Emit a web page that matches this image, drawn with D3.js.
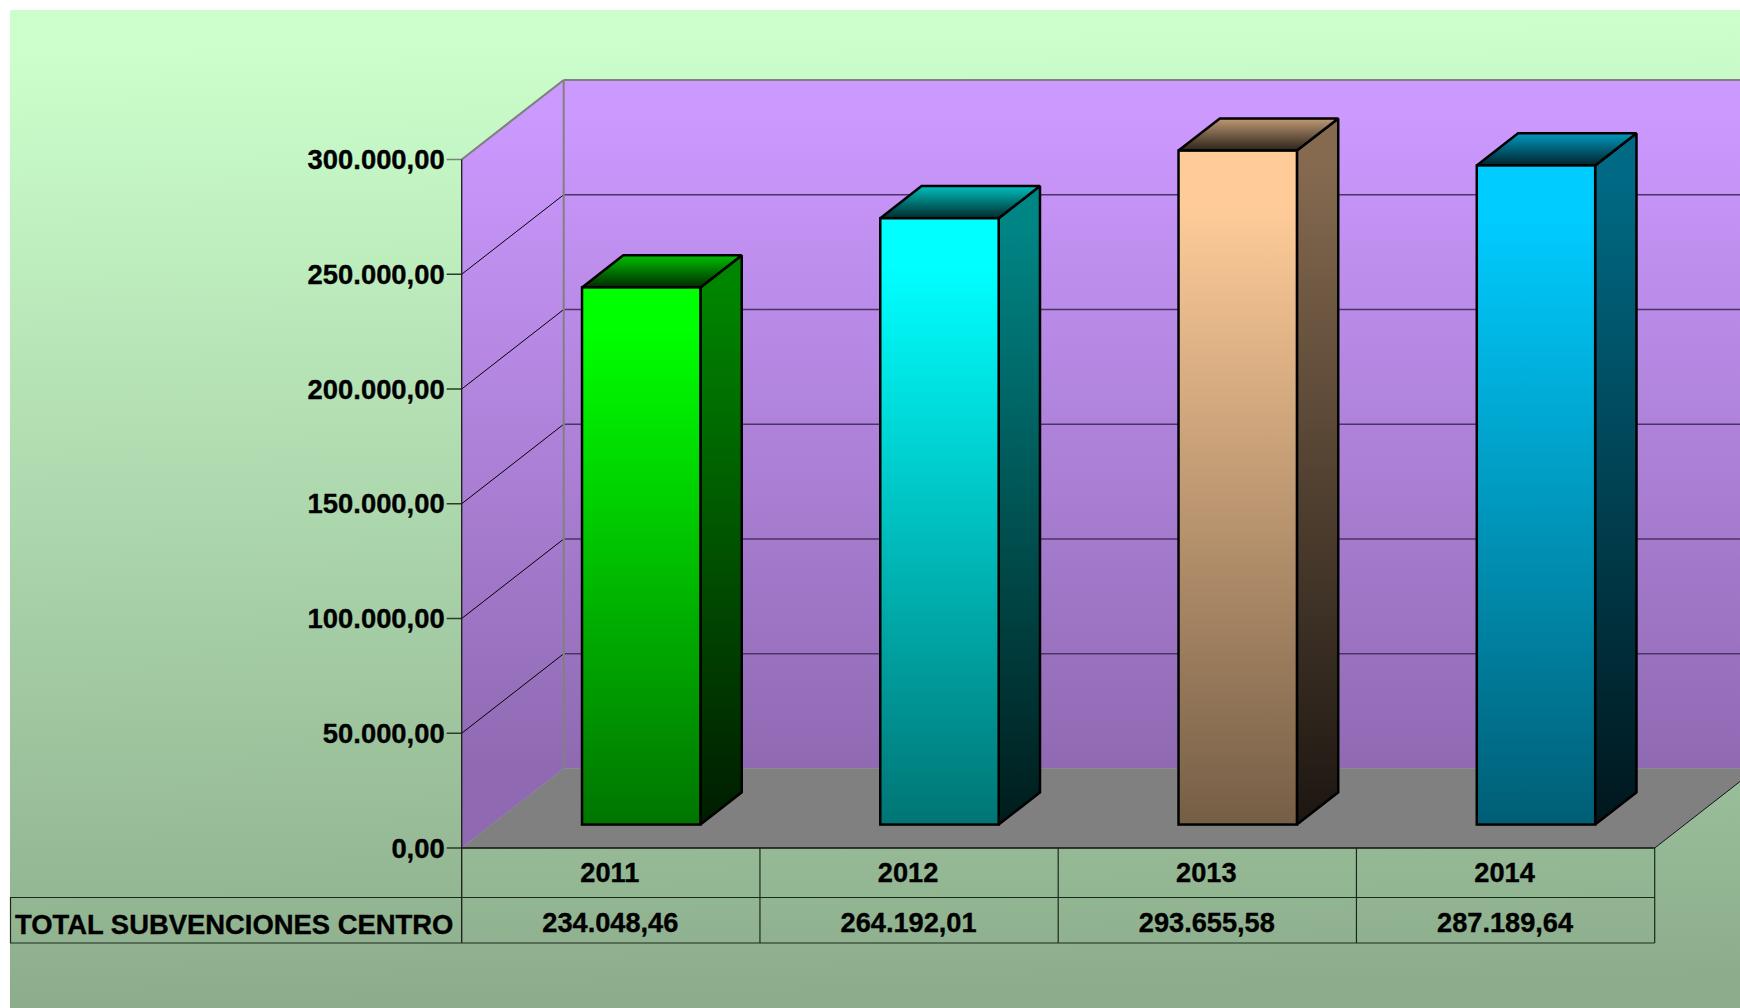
<!DOCTYPE html>
<html><head><meta charset="utf-8">
<style>html,body{margin:0;padding:0;background:#fff;overflow:hidden}svg{display:block}text{font-family:"Liberation Sans",Arial,sans-serif;font-weight:bold;fill:#000;stroke:#000;stroke-width:0.35px}</style>
<script src="https://cdn.jsdelivr.net/npm/d3@7"></script></head><body>
<script>
const categories = ["2011","2012","2013","2014"];
const values = [234048.46,264192.01,293655.58,287189.64];
const rowLabel = "TOTAL SUBVENCIONES CENTRO";
const yTicks = [0,50000,100000,150000,200000,250000,300000];
const barColors = ["#00FF00","#00FFFF","#FFCC99","#00CCFF"];

const W=1740,H=1008;
const svg=d3.select("body").append("svg").attr("width",W).attr("height",H);
const defs=svg.append("defs");
const locale=d3.formatLocale({decimal:",",thousands:".",grouping:[3],currency:["","€"]});
const fmt=locale.format(",.2f");

const y=d3.scaleLinear().domain([0,300000]).range([848,159.5]);
const x=d3.scaleBand().domain(categories).range([461.7,1654.7]).paddingInner(0).paddingOuter(0);
const depthX=102, depthY=79.5;            // wall depth
const barBack=0.7, barFront=0.295;        // bar occupies this slice of depth
const barW=x.bandwidth()*0.397;
const mult=(c,k)=>{const r=d3.rgb(c);return d3.rgb(r.r*k,r.g*k,r.b*k).formatHex();};
function grad(id,stops,coords,hold){
  const g=defs.append("linearGradient").attr("id",id);
  if(coords){g.attr("gradientUnits","userSpaceOnUse").attr("x1",coords[0]).attr("y1",coords[1]).attr("x2",coords[2]).attr("y2",coords[3]);}
  else{g.attr("x1",0).attr("y1",0).attr("x2",0).attr("y2",1);}
  g.append("stop").attr("offset",hold||0).attr("stop-color",stops[0]);
  g.append("stop").attr("offset",1).attr("stop-color",stops[1]);
}
grad("bg",["#CCFFCC","#8CAD8C"],[0,10,18,1008],0.04);
grad("wall",["#CC99FF","#8F6AB2"],[0,y(300000)-depthY,0,y(0)-depthY],0.05);
grad("lwall",["#CC99FF","#8F6AB2"],[0,y(300000)-depthY,0,y(0)-depthY],0.05);
barColors.forEach((c,i)=>{
  grad("f"+i,[c,mult(c,0.46)],null,0.08);
  grad("s"+i,[mult(c,0.52),mult(c,0.11)],null,0.06);
  grad("t"+i,[mult(c,0.75),mult(c,0.17)]);
});
svg.append("rect").attr("x",10).attr("y",10).attr("width",W-10).attr("height",H-10).attr("fill","url(#bg)");

const P=(px,py)=>px+","+py;
const x0=x.range()[0],x1=x.range()[1],yb=y(0),yt=y(300000);
svg.append("polygon").attr("points",[P(x0,yb),P(x0+depthX,yb-depthY),P(x0+depthX,yt-depthY),P(x0,yt)].join(" ")).attr("fill","url(#lwall)");
svg.append("polygon").attr("points",[P(x0+depthX,yb-depthY),P(x1+depthX,yb-depthY),P(x1+depthX,yt-depthY),P(x0+depthX,yt-depthY)].join(" ")).attr("fill","url(#wall)");
svg.append("polygon").attr("points",[P(x0,yb),P(x0+depthX,yb-depthY),P(x1+depthX,yb-depthY),P(x1,yb)].join(" ")).attr("fill","#808080");
yTicks.slice(1,-1).forEach(t=>{
  const yy=y(t);
  svg.append("line").attr("x1",x0).attr("y1",yy).attr("x2",x0+depthX).attr("y2",yy-depthY).attr("stroke","#000").attr("stroke-width",1);
  svg.append("line").attr("x1",x0+depthX).attr("y1",yy-depthY).attr("x2",x1+depthX).attr("y2",yy-depthY).attr("stroke","#4a3566").attr("stroke-width",1.4);
});
svg.append("line").attr("x1",x0+depthX).attr("y1",yb-depthY).attr("x2",x0+depthX).attr("y2",yt-depthY).attr("stroke","#808080").attr("stroke-width",2);
svg.append("line").attr("x1",x0).attr("y1",yt).attr("x2",x0+depthX).attr("y2",yt-depthY).attr("stroke","#808080").attr("stroke-width",2.2);
svg.append("line").attr("x1",x0+depthX).attr("y1",yt-depthY).attr("x2",x1+depthX).attr("y2",yt-depthY).attr("stroke","#808080").attr("stroke-width",2.2);
svg.append("line").attr("x1",x1).attr("y1",yb).attr("x2",x1+depthX).attr("y2",yb-depthY).attr("stroke","#111").attr("stroke-width",1);
yTicks.forEach(t=>{
  const yy=y(t);
  svg.append("line").attr("x1",x0-15).attr("y1",yy).attr("x2",x0).attr("y2",yy).attr("stroke",t===300000?"#6f8a6f":"#2b3a2b").attr("stroke-width",1.5);
  svg.append("text").attr("x",x0-17).attr("y",yy+9.5).attr("text-anchor","end").attr("font-size",27.4).text(fmt(t));
});
svg.append("line").attr("x1",x0).attr("y1",yt).attr("x2",x0).attr("y2",943).attr("stroke","#1a1a1a").attr("stroke-width",1.3);

const dx=depthX*(barBack-barFront), dy=depthY*(barBack-barFront);
const ox=depthX*0.3-0.2, oy=depthY*barFront;
categories.forEach((c,i)=>{
  const l=x(c)+x.bandwidth()/2-barW/2+ox, r=l+barW, b=yb-oy, t=y(values[i])-oy;
  const g=svg.append("g").attr("stroke","#000").attr("stroke-width",2.5).attr("stroke-linejoin","miter").attr("stroke-miterlimit",1.5);
  g.append("polygon").attr("points",[P(r,b),P(r+dx,b-dy),P(r+dx,t-dy),P(r,t)].join(" ")).attr("fill",`url(#s${i})`);
  g.append("polygon").attr("points",[P(l,t),P(l+dx,t-dy),P(r+dx,t-dy),P(r,t)].join(" ")).attr("fill",`url(#t${i})`);
  g.append("rect").attr("x",l).attr("y",t).attr("width",barW).attr("height",b-t).attr("fill",`url(#f${i})`);
});

const rowTop=yb,rowMid=897.5,rowBot=943;
const tbl=svg.append("g").attr("stroke","#1a2a1a").attr("stroke-width",1.2);
tbl.append("line").attr("x1",x0).attr("y1",yb).attr("x2",x1).attr("y2",yb).attr("stroke","#111").attr("stroke-width",1.6);
tbl.append("line").attr("x1",10).attr("y1",rowMid).attr("x2",x1).attr("y2",rowMid);
tbl.append("line").attr("x1",10).attr("y1",rowBot).attr("x2",x1).attr("y2",rowBot);
tbl.append("line").attr("x1",10.5).attr("y1",rowMid).attr("x2",10.5).attr("y2",rowBot);
categories.forEach(c=>{
  tbl.append("line").attr("x1",x(c)+x.bandwidth()).attr("y1",rowTop).attr("x2",x(c)+x.bandwidth()).attr("y2",rowBot);
  svg.append("text").attr("x",x(c)+x.bandwidth()/2-1).attr("y",882).attr("text-anchor","middle").attr("font-size",27.2).text(c);
});
values.forEach((v,i)=>{
  svg.append("text").attr("x",x(categories[i])+x.bandwidth()/2-0.5).attr("y",932).attr("text-anchor","middle").attr("font-size",27.2).text(fmt(v));
});
svg.append("text").attr("x",15).attr("y",934).attr("font-size",27.4).text(rowLabel);
</script></body></html>
